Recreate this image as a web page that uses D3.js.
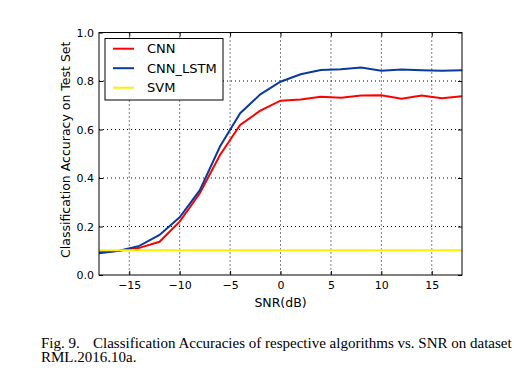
<!DOCTYPE html>
<html><head><meta charset="utf-8">
<script src="https://cdn.jsdelivr.net/npm/d3@7"></script>
<style>body{margin:0;background:#fff}svg{display:block}</style>
</head><body>
<svg id="c" width="514" height="378"></svg>
<script>
const snr = [-18,-16,-14,-12,-10,-8,-6,-4,-2,0,2,4,6,8,10,12,14,16,18];
const cnn = [0.094,0.100,0.112,0.137,0.220,0.337,0.495,0.619,0.678,0.719,0.724,0.735,0.731,0.740,0.741,0.727,0.740,0.729,0.737];
const cnnLstm = [0.090,0.100,0.120,0.165,0.238,0.350,0.530,0.667,0.745,0.797,0.828,0.845,0.848,0.856,0.842,0.847,0.844,0.842,0.844];
const svm = [0.102,0.102,0.102,0.102,0.102,0.102,0.102,0.102,0.102,0.102,0.102,0.102,0.102,0.102,0.102,0.102,0.102,0.102,0.102];
const seriesNames = ["CNN","CNN_LSTM","SVM"];
const xTicks = [-15,-10,-5,0,5,10,15];
const yTicks = [0.0,0.2,0.4,0.6,0.8,1.0];
const xLabel = "SNR(dB)";
const yLabel = "Classification Accuracy on Test Set";
const caption1a = "Fig. 9.";
const caption1b = "Classification Accuracies of respective algorithms vs. SNR on dataset";
const caption2 = "RML.2016.10a.";

const colors = ["#ff0000","#0b3a9c","#ffee00"];
const series = [cnn, cnnLstm, svm];

const L=99, R=462, T=32.5, B=275;
const svg = d3.select("#c");
const x = d3.scaleLinear().domain([-18,18]).range([L,R]);
const y = d3.scaleLinear().domain([0,1]).range([B,T]);
const font = "DejaVu Sans, sans-serif";
const fmtX = d => d<0 ? "\u2212"+Math.abs(d) : String(d);

// grid
const g = svg.append("g");
g.selectAll(".gx").data(xTicks).join("line")
  .attr("x1",d=>x(d)).attr("x2",d=>x(d)).attr("y1",T).attr("y2",B)
  .attr("stroke","#000").attr("stroke-width",1).attr("stroke-dasharray","1,3");
g.selectAll(".gy").data(yTicks.slice(1,-1)).join("line")
  .attr("y1",d=>y(d)).attr("y2",d=>y(d)).attr("x1",L).attr("x2",R)
  .attr("stroke","#000").attr("stroke-width",1).attr("stroke-dasharray","1,3");

// axes with inward ticks
const axB = d3.axisBottom(x).tickValues(xTicks).tickFormat(fmtX).tickSizeInner(-4).tickSizeOuter(0).tickPadding(6);
const axT = d3.axisTop(x).tickValues(xTicks).tickFormat("").tickSizeInner(-4).tickSizeOuter(0);
const axLft = d3.axisLeft(y).tickValues(yTicks).tickFormat(d3.format(".1f")).tickSizeInner(-4).tickSizeOuter(0).tickPadding(5);
const axRt = d3.axisRight(y).tickValues(yTicks).tickFormat("").tickSizeInner(-4).tickSizeOuter(0);
[[axB,`translate(0,${B})`],[axT,`translate(0,${T})`],[axLft,`translate(${L},0)`],[axRt,`translate(${R},0)`]].forEach(([a,t])=>{
  const ga = svg.append("g").attr("transform",t).call(a);
  ga.select(".domain").remove();
  ga.selectAll("text").attr("font-family",font).attr("font-size",11).attr("fill","#000");
});

// lines
const line = d3.line().x((d,i)=>x(snr[i])).y(d=>y(d));
series.forEach((s,k)=>{
  svg.append("path").datum(s).attr("d",line).attr("fill","none")
    .attr("stroke",colors[k]).attr("stroke-width",2);
});

// frame
svg.append("rect").attr("x",L).attr("y",T).attr("width",R-L).attr("height",B-T)
  .attr("fill","none").attr("stroke","#000").attr("stroke-width",1);

// legend
const lg = svg.append("g");
lg.append("rect").attr("x",105).attr("y",38.5).attr("width",118).attr("height",61.5)
  .attr("fill","#fff").attr("stroke","#000").attr("stroke-width",1);
seriesNames.forEach((n,i)=>{
  const yy = 48.7 + i*19.5;
  lg.append("line").attr("x1",113).attr("x2",134).attr("y1",yy).attr("y2",yy)
    .attr("stroke",colors[i]).attr("stroke-width",2);
  lg.append("text").attr("x",147).attr("y",yy).attr("dy","0.35em")
    .attr("font-family",font).attr("font-size",13).text(n);
});

// axis labels
svg.append("text").attr("x",(L+R)/2).attr("y",307).attr("text-anchor","middle")
  .attr("font-family",font).attr("font-size",12.5).text(xLabel);
svg.append("text").attr("transform",`translate(70,${(T+B)/2 - 4}) rotate(-90)`)
  .attr("text-anchor","middle").attr("font-family",font).attr("font-size",12.5).text(yLabel);

// caption
const cf = "Liberation Serif, Times New Roman, serif";
svg.append("text").attr("x",41).attr("y",347.5).attr("font-family",cf).attr("font-size",15).text(caption1a);
svg.append("text").attr("x",93).attr("y",347.5).attr("font-family",cf).attr("font-size",15).text(caption1b);
svg.append("text").attr("x",41).attr("y",362.3).attr("font-family",cf).attr("font-size",15).text(caption2);
</script>
</body></html>
